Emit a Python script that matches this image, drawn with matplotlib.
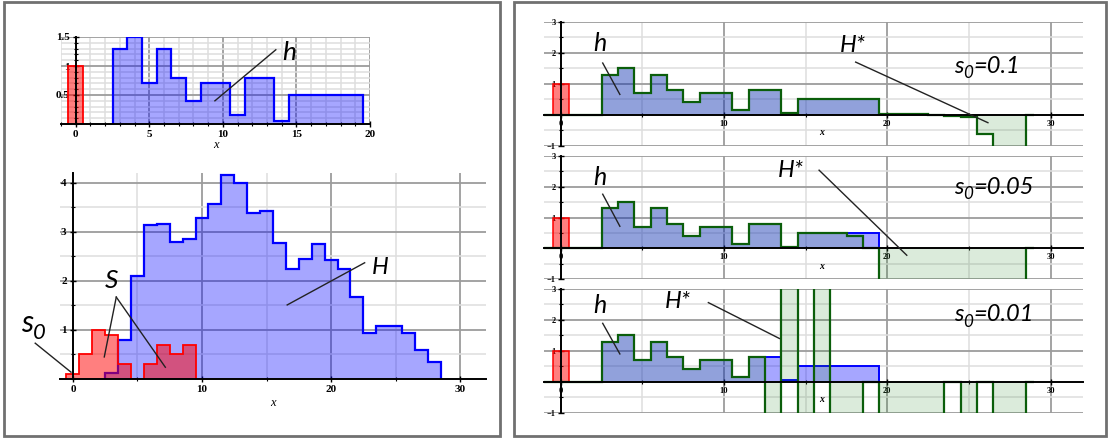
import matplotlib

matplotlib.use("Agg")
import matplotlib.pyplot as plt
import numpy as np
from matplotlib.patches import Rectangle
from matplotlib.ticker import FixedLocator, MultipleLocator

plt.rcParams["font.family"] = ["Liberation Serif", "DejaVu Serif"]
plt.rcParams["font.weight"] = "bold"

# unit bins centred on integers
s0_height = 1.0
h_centres = np.arange(3, 20)
h_values = [1.3, 1.5, 0.7, 1.3, 0.8, 0.4, 0.7, 0.7, 0.15, 0.8, 0.8, 0.05, 0.5, 0.5, 0.5, 0.5, 0.5]

H_centres = np.arange(3, 29)
H_values = [0.12, 0.8, 2.1, 3.15, 3.17, 2.8, 2.85, 3.28, 3.57, 4.15, 4.0, 3.38, 3.43,
            2.77, 2.24, 2.44, 2.75, 2.42, 2.24, 1.68, 0.93, 1.08, 1.08, 0.94, 0.6, 0.35]

S_centres = np.arange(0, 10)
S_values = [0.1, 0.5, 1.0, 0.9, 0.3, 0.0, 0.3, 0.7, 0.5, 0.7]

# H* for the three s0 values, bins centred on -1..29 (last bin stops at 29)
# +-6 stands for values far outside the visible -1..3 range
hstar_centres = np.arange(-1, 30)
hstar_end = 29.0
s0_labels = ["0.1", "0.05", "0.01"]
hstar_01 = [0, 0, 0, 0, 1.3, 1.5, 0.7, 1.3, 0.8, 0.4, 0.7, 0.7, 0.15, 0.8, 0.8, 0.05,
            0.5, 0.5, 0.5, 0.5, 0.5, 0.03, 0.03, 0.03, 0.0, -0.03, -0.07, -0.62, -6, -6, 0]
hstar_005 = [0, 0, 0, 0, 1.3, 1.5, 0.7, 1.3, 0.8, 0.4, 0.7, 0.7, 0.15, 0.8, 0.8, 0.05,
             0.5, 0.5, 0.5, 0.42, 0.0, -6, -6, -6, -6, -6, -6, -6, -6, -6, 0]
hstar_001 = [0, 0, 0, 0, 1.3, 1.5, 0.7, 1.3, 0.8, 0.4, 0.7, 0.7, 0.15, 0.8,
             -6, 6, -6, 6, -6, -6, 0, -6, -6, -6, -6, 0, -6, 0, -6, -6, 0]
hstar_sets = [hstar_01, hstar_005, hstar_001]

BLUE = "#0000ff"
RED = "#ff0000"
GREEN = "#0b5e0b"
W, H = 1110, 438
ANNOT = dict(family="Lato", style="italic", weight="normal", color="black")


def edges_of(centres, last=None):
    centres = np.asarray(centres, dtype=float)
    end = centres[-1] + 0.5 if last is None else last
    return np.append(centres - 0.5, end)


def add_px_axes(fig, left, top, right, bottom):
    return fig.add_axes([left / W, 1 - bottom / H, (right - left) / W, (bottom - top) / H])


def style_axes(ax, xlim, ylim, xmajor, xminor, yticks, yminor, size):
    ax.set_xlim(*xlim)
    ax.set_ylim(*ylim)
    ax.xaxis.set_major_locator(MultipleLocator(xmajor))
    ax.xaxis.set_minor_locator(MultipleLocator(xminor))
    ax.yaxis.set_major_locator(FixedLocator(yticks))
    ax.yaxis.set_minor_locator(MultipleLocator(yminor))
    ax.grid(which="major", color="#9c9c9c", linewidth=1.3)
    ax.grid(which="minor", color="#dedede", linewidth=1.1)
    ax.set_axisbelow(True)
    for side in ("top", "right"):
        ax.spines[side].set_visible(False)
    ax.spines["left"].set_position(("data", 0))
    ax.spines["bottom"].set_position(("data", 0))
    for side in ("left", "bottom"):
        ax.spines[side].set_linewidth(1.4)
        ax.spines[side].set_zorder(5)
    ax.tick_params(which="major", direction="inout", length=5, width=1, labelsize=size, pad=2)
    ax.tick_params(which="minor", direction="inout", length=3, width=0.8)
    ax.set_facecolor("none")


def line(ax, p, q):
    ax.plot([p[0], q[0]], [p[1], q[1]], color="#222222", linewidth=1, clip_on=False, zorder=6)


def sub_label(ax, x, y, base, sub, rest, size):
    # base letter, slightly lowered subscript, then the rest on the base line
    t = ax.text(x, y, base, fontsize=size, ha="left", va="baseline", clip_on=False, **ANNOT)
    s = ax.annotate(sub, xy=(1, 0), xycoords=t, xytext=(-0.5, -size * 0.06),
                    textcoords="offset points", fontsize=size * 0.72, ha="left",
                    va="baseline", **ANNOT)
    if rest:
        ax.annotate(rest, xy=(1, 0), xycoords=(s, t), xytext=(0.3, 0),
                    textcoords="offset points", fontsize=size, ha="left",
                    va="bottom", **ANNOT)


fig = plt.figure(figsize=(W / 100, H / 100), dpi=100)
fig.patches.append(Rectangle((4 / W, 2 / H), 496 / W, 434 / H, transform=fig.transFigure,
                             fill=False, edgecolor="#707070", linewidth=2))
fig.patches.append(Rectangle((514 / W, 2 / H), 592 / W, 434 / H, transform=fig.transFigure,
                             fill=False, edgecolor="#707070", linewidth=2))

# top left: s0 and h
ax = add_px_axes(fig, 61, 37, 370, 124)
style_axes(ax, (-1, 20), (0, 1.5), 5, 1, [0.5, 1, 1.5], 0.1, 8)
ax.stairs(h_values, edges_of(h_centres), fill=True, color=BLUE, alpha=0.35, linewidth=0)
ax.stairs(h_values, edges_of(h_centres), color=BLUE, linewidth=1.6)
ax.bar(0, s0_height, width=1, color=RED, alpha=0.5, linewidth=0)
ax.bar(0, s0_height, width=1, fill=False, edgecolor=RED, linewidth=1.3)
ax.set_yticklabels(["0.5", "1", "1.5"])
ax.set_xlabel("x", fontstyle="italic", fontsize=9, labelpad=0)
ax.text(14.5, 1.24, "h", fontsize=19, ha="center", va="center", **ANNOT)
line(ax, (13.6, 1.28), (9.46, 0.40))

# bottom left: S and H
ax = add_px_axes(fig, 60, 173, 486, 379)
style_axes(ax, (-1, 32), (0, 4.2), 10, 5, [1, 2, 3, 4], 0.5, 8)
ax.stairs(H_values, edges_of(H_centres), fill=True, color=BLUE, alpha=0.35, linewidth=0)
ax.stairs(H_values, edges_of(H_centres), color=BLUE, linewidth=1.6)
ax.stairs(S_values, edges_of(S_centres), fill=True, color=RED, alpha=0.5, linewidth=0)
ax.stairs(S_values, edges_of(S_centres), color=RED, linewidth=1.3)
ax.set_xlabel("x", fontstyle="italic", fontsize=9, labelpad=2)
sub_label(ax, -4.0, 0.95, "s", "0", "", 22)
line(ax, (-2.92, 0.73), (-0.15, 0.14))
ax.text(2.97, 2.0, "S", fontsize=19, ha="center", va="center", **ANNOT)
line(ax, (3.36, 1.67), (2.43, 0.45))
line(ax, (3.36, 1.67), (7.16, 0.24))
ax.text(23.8, 2.27, "H", fontsize=17, ha="center", va="center", **ANNOT)
line(ax, (22.6, 2.37), (16.6, 1.51))

# right: h against H* for three s0 values
tops = [21.7, 156, 289]
bottoms = [146, 279.3, 412.7]
h_text = [(2.4, 2.29, 2.57, 1.67, 3.62, 0.66), (2.4, 2.3, 2.57, 1.76, 3.62, 0.72),
          (2.4, 2.48, 2.57, 1.89, 3.62, 0.9)]
hs_text = [(17.9, 2.22, 18.06, 1.70, 26.16, -0.25), (14.07, 2.53, 15.82, 2.54, 21.19, -0.22),
           (7.18, 2.58, 9.04, 2.56, 13.39, 1.40)]
s0_text = [(24.1, 1.35), (24.1, 1.77), (24.1, 1.96)]
for i, hstar in enumerate(hstar_sets):
    ax = add_px_axes(fig, 543.6, tops[i], 1083.3, bottoms[i])
    style_axes(ax, (-1.05, 32), (-1, 3), 10, 5, [-1, 1, 2, 3], 0.5, 6)
    ax.stairs(h_values, edges_of(h_centres), fill=True, color=BLUE, alpha=0.35, linewidth=0)
    ax.stairs(h_values, edges_of(h_centres), color=BLUE, linewidth=1.4)
    ax.bar(0, s0_height, width=1, color=RED, alpha=0.5, linewidth=0)
    ax.bar(0, s0_height, width=1, fill=False, edgecolor=RED, linewidth=1.1)
    hs_edges = edges_of(hstar_centres, hstar_end)
    ax.stairs(hstar, hs_edges, baseline=0, fill=True, color="#2e8b2e", alpha=0.17, linewidth=0)
    ax.stairs(hstar, hs_edges, baseline=None, color=GREEN, linewidth=1.6)
    ax.tick_params(axis="both", pad=1)
    ax.text(16, -0.58, "x", fontsize=7, fontstyle="italic", ha="center", va="center")
    hx, hy, a, b, c, d = h_text[i]
    ax.text(hx, hy, "h", fontsize=18, ha="center", va="center", **ANNOT)
    line(ax, (a, b), (c, d))
    hx, hy, a, b, c, d = hs_text[i]
    ax.text(hx, hy, "H*", fontsize=17, ha="center", va="center", **ANNOT)
    line(ax, (a, b), (c, d))
    sx, sy = s0_text[i]
    sub_label(ax, sx, sy, "s", "0", "=" + s0_labels[i], 17)

fig.savefig("out.png", dpi=100)
